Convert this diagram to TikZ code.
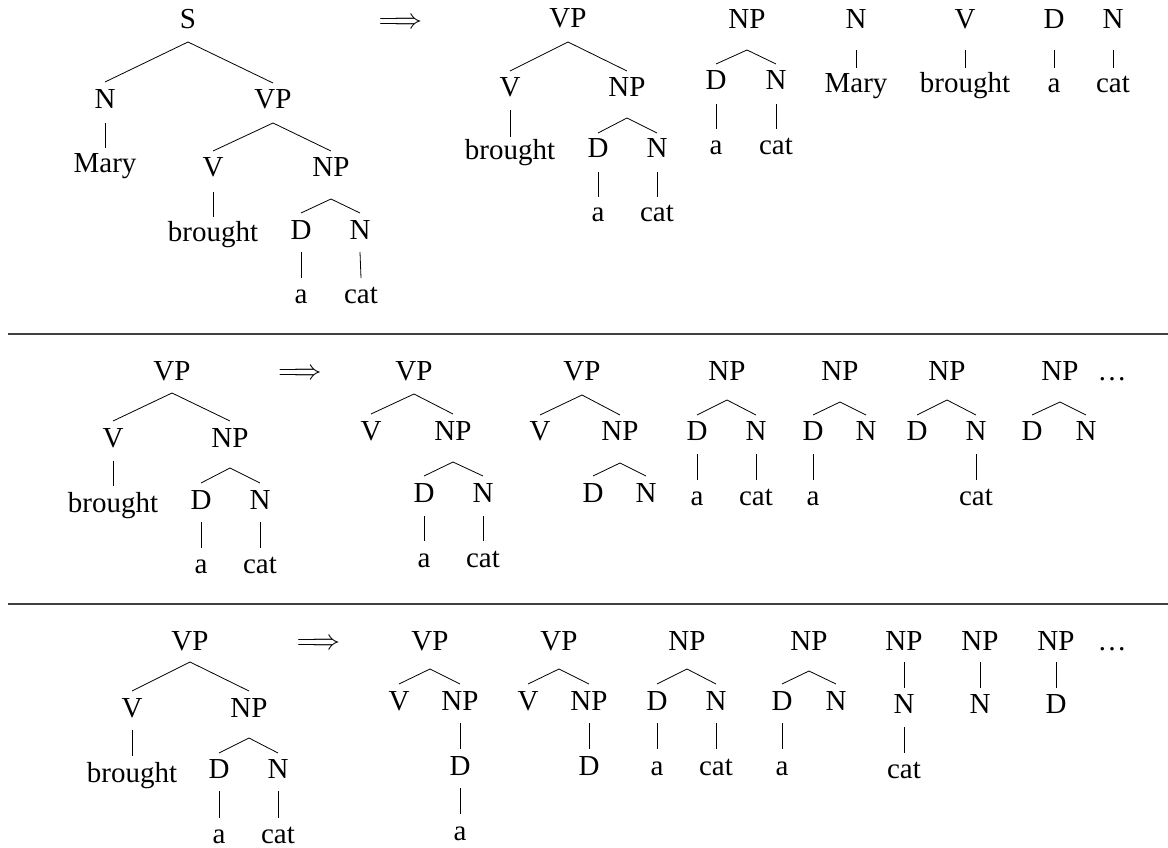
\RequirePackage{fix-cm}
\documentclass[tikz,border=0pt]{standalone}
\usepackage{fontspec}
\setmainfont{Liberation Serif}
\newcommand\lnk[4]{\draw[tl] ([yshift=-#3pt]#1.base) -- ([yshift=#4pt]#2.base);}
\begin{document}
\begin{tikzpicture}[x=1pt,y=-1pt,
  lbl/.style={anchor=base, inner sep=0pt, font=\fontsize{29}{34}\selectfont},
  arr/.style={anchor=base, inner sep=0pt, font=\fontsize{28}{34}\selectfont},
  tl/.style={line width=0.8pt, black},
  rule/.style={line width=1.5pt, black!75}]
\useasboundingbox (0,0) rectangle (1168,848);
% ---------------- panel 1 ----------------
\node[lbl] (aS) at (188,29) {S};
\node[lbl] (aN) at (105,109) {N};
\node[lbl] (aVP) at (273,109) {VP};
\node[lbl] (aMary) at (105,173) {Mary};
\node[lbl] (aV) at (213,177) {V};
\node[lbl] (aNP) at (331,177) {NP};
\node[lbl] (abrought) at (213,241) {brought};
\node[lbl] (aD) at (301,239) {D};
\node[lbl] (aN2) at (360,239) {N};
\node[lbl] (aa) at (301,303) {a};
\node[lbl] (acat) at (361,303) {cat};
\lnk{aS}{aN}{13}{27}
\lnk{aS}{aVP}{13}{26}
\lnk{aN}{aMary}{14}{25}
\lnk{aVP}{aV}{14}{26}
\lnk{aVP}{aNP}{14}{26}
\lnk{aV}{abrought}{15}{24}
\lnk{aNP}{aD}{22}{26}
\lnk{aNP}{aN2}{22}{26}
\lnk{aD}{aa}{13}{25}
\lnk{aN2}{acat}{13}{25}

\node[arr] (arr1) at (400.5,29) {$\Longrightarrow$};

\node[lbl] (bVP) at (568,28) {VP};
\node[lbl] (bV) at (510,97) {V};
\node[lbl] (bNP) at (627,97) {NP};
\node[lbl] (bbrought) at (510,160) {brought};
\node[lbl] (bD) at (598,158) {D};
\node[lbl] (bN) at (657,158) {N};
\node[lbl] (ba) at (598,222) {a};
\node[lbl] (bcat) at (657,222) {cat};
\lnk{bVP}{bV}{14}{26}
\lnk{bVP}{bNP}{14}{26}
\lnk{bV}{bbrought}{13}{23}
\lnk{bNP}{bD}{21}{25}
\lnk{bNP}{bN}{21}{25}
\lnk{bD}{ba}{14}{25}
\lnk{bN}{bcat}{14}{25}

\node[lbl] (cNP) at (747,29) {NP};
\node[lbl] (cD) at (716,90) {D};
\node[lbl] (cN) at (776,90) {N};
\node[lbl] (ca) at (716,155) {a};
\node[lbl] (ccat) at (776,155) {cat};
\lnk{cNP}{cD}{21}{26}
\lnk{cNP}{cN}{21}{26}
\lnk{cD}{ca}{14}{26}
\lnk{cN}{ccat}{14}{26}

\node[lbl] (dN) at (856,29) {N};
\node[lbl] (dMary) at (856,93) {Mary};
\node[lbl] (eV) at (965,29) {V};
\node[lbl] (ebrought) at (965,93) {brought};
\node[lbl] (fD) at (1054,29) {D};
\node[lbl] (fa) at (1054,93) {a};
\node[lbl] (gN) at (1113,29) {N};
\node[lbl] (gcat) at (1113,93) {cat};
\lnk{dN}{dMary}{21}{25}
\lnk{eV}{ebrought}{21}{25}
\lnk{fD}{fa}{21}{25}
\lnk{gN}{gcat}{21}{25}

\draw[rule] (8,334) -- (1168,334);
% ---------------- panel 2 ----------------
\node[lbl] (hVP) at (172,380) {VP};
\node[lbl] (hV) at (113,447) {V};
\node[lbl] (hNP) at (230,447) {NP};
\node[lbl] (hbrought) at (113,512) {brought};
\node[lbl] (hD) at (201,509) {D};
\node[lbl] (hN) at (260,509) {N};
\node[lbl] (ha) at (201,573) {a};
\node[lbl] (hcat) at (260,573) {cat};
\lnk{hVP}{hV}{13}{26}
\lnk{hVP}{hNP}{13}{26}
\lnk{hV}{hbrought}{14}{26}
\lnk{hNP}{hD}{21}{26}
\lnk{hNP}{hN}{21}{26}
\lnk{hD}{ha}{13}{25}
\lnk{hN}{hcat}{13}{25}

\node[arr] (arr2) at (300,379) {$\Longrightarrow$};

\node[lbl] (iVP) at (414,380) {VP};
\node[lbl] (iV) at (371,440) {V};
\node[lbl] (iNP) at (453,440) {NP};
\node[lbl] (iD) at (424,502) {D};
\node[lbl] (iN) at (483,502) {N};
\node[lbl] (ia) at (424,567) {a};
\node[lbl] (icat) at (483,567) {cat};
\lnk{iVP}{iV}{14}{26}
\lnk{iVP}{iNP}{14}{26}
\lnk{iNP}{iD}{22}{26}
\lnk{iNP}{iN}{22}{26}
\lnk{iD}{ia}{14}{26}
\lnk{iN}{icat}{14}{26}

\node[lbl] (jVP) at (582,380) {VP};
\node[lbl] (jV) at (540,440) {V};
\node[lbl] (jNP) at (620,440) {NP};
\node[lbl] (jD) at (593,502) {D};
\node[lbl] (jN) at (646,502) {N};
\lnk{jVP}{jV}{15}{25}
\lnk{jVP}{jNP}{15}{25}
\lnk{jNP}{jD}{23}{26}
\lnk{jNP}{jN}{23}{26}

\node[lbl] (kNP) at (727,380) {NP};
\node[lbl] (kD) at (697,440) {D};
\node[lbl] (kN) at (756,440) {N};
\node[lbl] (ka) at (697,505) {a};
\node[lbl] (kcat) at (756,505) {cat};
\lnk{kNP}{kD}{20}{25}
\lnk{kNP}{kN}{20}{25}
\lnk{kD}{ka}{14}{25}
\lnk{kN}{kcat}{14}{25}

\node[lbl] (lNP) at (840,380) {NP};
\node[lbl] (lD) at (813,440) {D};
\node[lbl] (lN) at (866,440) {N};
\node[lbl] (la) at (813,505) {a};
\lnk{lNP}{lD}{22}{25}
\lnk{lNP}{lN}{22}{25}
\lnk{lD}{la}{14}{25}

\node[lbl] (mNP) at (947,380) {NP};
\node[lbl] (mD) at (917,440) {D};
\node[lbl] (mN) at (976,440) {N};
\node[lbl] (mcat) at (976,505) {cat};
\lnk{mNP}{mD}{20}{25}
\lnk{mNP}{mN}{20}{25}
\lnk{mN}{mcat}{14}{25}

\node[lbl] (nNP) at (1060,380) {NP};
\node[lbl] (nD) at (1032,440) {D};
\node[lbl] (nN) at (1086,440) {N};
\lnk{nNP}{nD}{22}{25}
\lnk{nNP}{nN}{22}{25}
\node[lbl] (dots2) at (1112,380) {\ldots};

\draw[rule] (8,604) -- (1168,604);
% ---------------- panel 3 ----------------
\node[lbl] (oVP) at (190,650) {VP};
\node[lbl] (oV) at (132,717) {V};
\node[lbl] (oNP) at (249,717) {NP};
\node[lbl] (obrought) at (132,782) {brought};
\node[lbl] (oD) at (219,778) {D};
\node[lbl] (oN) at (278,778) {N};
\node[lbl] (oa) at (219,843) {a};
\node[lbl] (ocat) at (278,843) {cat};
\lnk{oVP}{oV}{12}{26}
\lnk{oVP}{oNP}{12}{26}
\lnk{oV}{obrought}{13}{26}
\lnk{oNP}{oD}{21}{25}
\lnk{oNP}{oN}{21}{25}
\lnk{oD}{oa}{13}{25}
\lnk{oN}{ocat}{13}{25}

\node[arr] (arr3) at (318.5,649) {$\Longrightarrow$};

\node[lbl] (pVP) at (430,650) {VP};
\node[lbl] (pV) at (399,710) {V};
\node[lbl] (pNP) at (460,710) {NP};
\node[lbl] (pD) at (460,775) {D};
\node[lbl] (pa) at (460,840) {a};
\lnk{pVP}{pV}{19}{26}
\lnk{pVP}{pNP}{19}{26}
\lnk{pNP}{pD}{13}{26}
\lnk{pD}{pa}{13}{26}

\node[lbl] (qVP) at (559,650) {VP};
\node[lbl] (qV) at (528,710) {V};
\node[lbl] (qNP) at (589,710) {NP};
\node[lbl] (qD) at (589,775) {D};
\lnk{qVP}{qV}{19}{26}
\lnk{qVP}{qNP}{19}{26}
\lnk{qNP}{qD}{13}{26}

\node[lbl] (rNP) at (687,650) {NP};
\node[lbl] (rD) at (657,710) {D};
\node[lbl] (rN) at (716,710) {N};
\node[lbl] (ra) at (657,775) {a};
\node[lbl] (rcat) at (716,775) {cat};
\lnk{rNP}{rD}{19}{26}
\lnk{rNP}{rN}{19}{26}
\lnk{rD}{ra}{13}{26}
\lnk{rN}{rcat}{13}{26}

\node[lbl] (sNP) at (809,650) {NP};
\node[lbl] (sD) at (782,710) {D};
\node[lbl] (sN) at (836,710) {N};
\node[lbl] (sa) at (782,775) {a};
\lnk{sNP}{sD}{21}{26}
\lnk{sNP}{sN}{21}{26}
\lnk{sD}{sa}{13}{26}

\node[lbl] (tNP) at (904,650) {NP};
\node[lbl] (tN) at (904,713) {N};
\node[lbl] (tcat) at (904,778) {cat};
\lnk{tNP}{tN}{12}{25}
\lnk{tN}{tcat}{14}{25}

\node[lbl] (uNP) at (980,650) {NP};
\node[lbl] (uN) at (980,713) {N};
\lnk{uNP}{uN}{12}{25}

\node[lbl] (vNP) at (1056,650) {NP};
\node[lbl] (vD) at (1056,713) {D};
\lnk{vNP}{vD}{12}{25}
\node[lbl] (dots3) at (1112,650) {\ldots};
\end{tikzpicture}
\end{document}
